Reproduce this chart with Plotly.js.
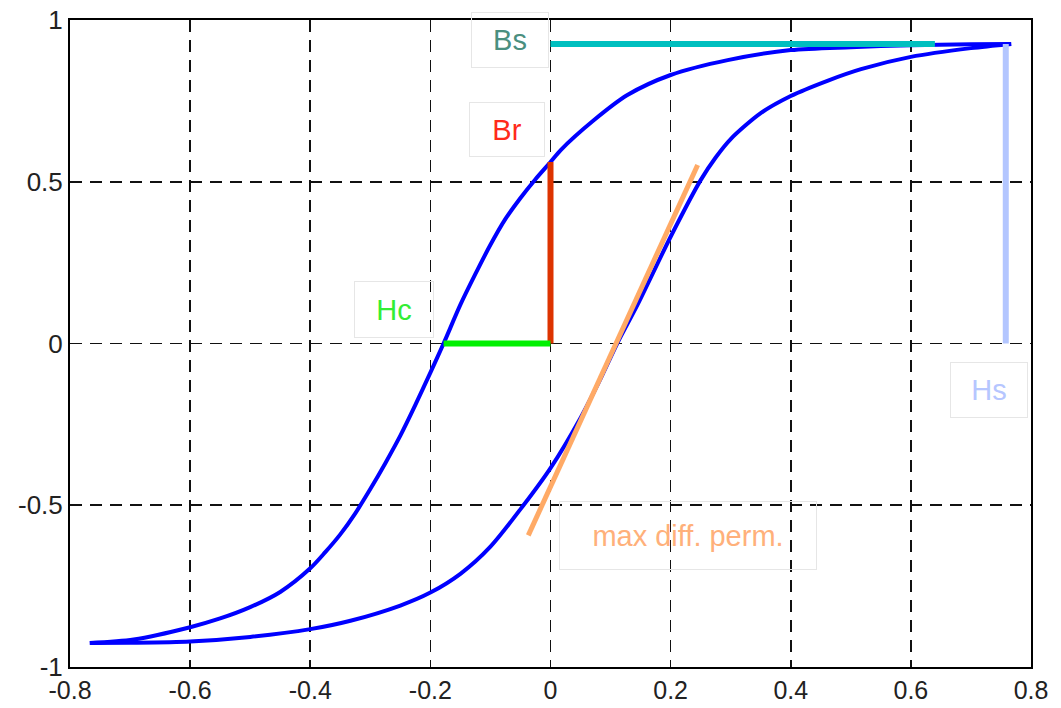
<!DOCTYPE html>
<html>
<head>
<meta charset="utf-8">
<script src="https://cdn.plot.ly/plotly-3.0.1.min.js"></script>
<style>
html,body{margin:0;padding:0;background:#fff;}
#chart{width:1061px;height:708px;}
</style>
</head>
<body>
<div id="chart"></div>
<script>
// Upper (descending) branch of the hysteresis loop
const upperX = [0.767, 0.7, 0.6, 0.5, 0.4, 0.295, 0.2, 0.128, 0.072, 0.017, 0, -0.025, -0.05, -0.075, -0.1, -0.125, -0.15, -0.178, -0.2, -0.225, -0.25, -0.275, -0.3, -0.325, -0.35, -0.375, -0.4, -0.45, -0.5, -0.55, -0.6, -0.694, -0.767];
const upperY = [0.926, 0.925, 0.922, 0.916, 0.907, 0.876, 0.83, 0.768, 0.69, 0.598, 0.561, 0.508, 0.45, 0.385, 0.305, 0.215, 0.12, 0.0, -0.09, -0.19, -0.285, -0.37, -0.45, -0.525, -0.59, -0.645, -0.695, -0.768, -0.815, -0.85, -0.877, -0.915, -0.926];
// Lower (ascending) branch
const lowerX = [-0.767, -0.7, -0.6, -0.5, -0.4, -0.333, -0.25, -0.2, -0.15, -0.1, -0.045, 0, 0.05, 0.083, 0.111, 0.145, 0.2, 0.25, 0.275, 0.3, 0.35, 0.4, 0.461, 0.517, 0.6, 0.7, 0.767];
const lowerY = [-0.926, -0.925, -0.921, -0.907, -0.883, -0.857, -0.81, -0.77, -0.712, -0.628, -0.5, -0.385, -0.23, -0.11, 0.0, 0.12, 0.33, 0.505, 0.575, 0.632, 0.712, 0.765, 0.812, 0.848, 0.886, 0.913, 0.926];

// Characteristic markers
const bsX = [0, 0.64], bsY = [0.926, 0.926];           // saturation flux density
const brX = [0, 0], brY = [0, 0.561];                  // remanence
const hcX = [-0.178, 0], hcY = [0, 0];                 // coercivity
const hsX = [0.758, 0.758], hsY = [0, 0.926];          // saturation field
const permX = [-0.037, 0.245], permY = [-0.593, 0.552]; // max differential permeability tangent

// Label texts and anchor positions
const labelText = ["Bs", "Br", "Hc", "Hs", "max diff. perm."];
const labelX = [-0.0667, -0.0717, -0.26, 0.73, 0.2283];
const labelY = [0.938, 0.6615, 0.105, -0.1437, -0.5935];

// Tick labels
const xTickVals = [-0.8, -0.6, -0.4, -0.2, 0, 0.2, 0.4, 0.6, 0.8];
const xTickText = ["-0.8", "-0.6", "-0.4", "-0.2", "0", "0.2", "0.4", "0.6", "0.8"];
const yTickVals = [-1, -0.5, 0, 0.5, 1];
const yTickText = ["-1", "-0.5", "0", "0.5", "1"];

const labelColors = ["#4a8f7f", "#ff2a1a", "#33ee33", "#b6c6ff", "#ffb07a"];
const labelW = [76, 74, 78, 76, 256];
const labelH = [54, 53, 55, 54, 67];

const curveLine = {color: '#0000ff', width: 4, shape: 'spline', smoothing: 0.8};

const traces = [
  {x: upperX, y: upperY, mode: 'lines', line: curveLine, hoverinfo: 'skip'},
  {x: lowerX, y: lowerY, mode: 'lines', line: curveLine, hoverinfo: 'skip'},
  {x: permX, y: permY, mode: 'lines', line: {color: '#ffaa66', width: 5}, hoverinfo: 'skip'},
  {x: bsX, y: bsY, mode: 'lines', line: {color: '#00bfbf', width: 6}, hoverinfo: 'skip'},
  {x: hsX, y: hsY, mode: 'lines', line: {color: '#b3c6ff', width: 6}, hoverinfo: 'skip'},
  {x: brX, y: brY, mode: 'lines', line: {color: '#dd3300', width: 6}, hoverinfo: 'skip'},
  {x: hcX, y: hcY, mode: 'lines', line: {color: '#00f000', width: 6}, hoverinfo: 'skip'}
];

const annotations = labelText.map((t, i) => ({
  x: labelX[i], y: labelY[i], xref: 'x', yref: 'y',
  text: t, showarrow: false, xanchor: 'center', yanchor: 'middle',
  font: {family: 'Liberation Sans, Arial, sans-serif', size: 29, color: labelColors[i]},
  bordercolor: '#e6e6e6', borderwidth: 1, borderpad: 0,
  width: labelW[i], height: labelH[i], align: 'center', valign: 'middle'
}));

const axisCommon = {
  showline: true, linecolor: '#000', linewidth: 2, mirror: true,
  showgrid: true, gridcolor: '#111', gridwidth: 1.6, griddash: '12px,8px',
  zeroline: false, ticks: '', automargin: false
};

const layout = {
  width: 1061, height: 708,
  margin: {l: 70, r: 30, t: 20, b: 41},
  paper_bgcolor: '#fff', plot_bgcolor: '#fff',
  showlegend: false,
  xaxis: Object.assign({}, axisCommon, {range: [-0.8, 0.8], tickmode: 'array', tickvals: xTickVals, ticktext: xTickText, ticklabelstandoff: 0,
    tickfont: {family: 'Liberation Sans, Arial, sans-serif', size: 25, color: '#222'}}),
  yaxis: Object.assign({}, axisCommon, {range: [-1, 1], tickmode: 'array', tickvals: yTickVals, ticktext: yTickText, ticklabelstandoff: 0,
    tickfont: {family: 'Liberation Sans, Arial, sans-serif', size: 26, color: '#222'}}),
  annotations: annotations
};

Plotly.newPlot('chart', traces, layout, {staticPlot: true, displayModeBar: false});
</script>
</body>
</html>
